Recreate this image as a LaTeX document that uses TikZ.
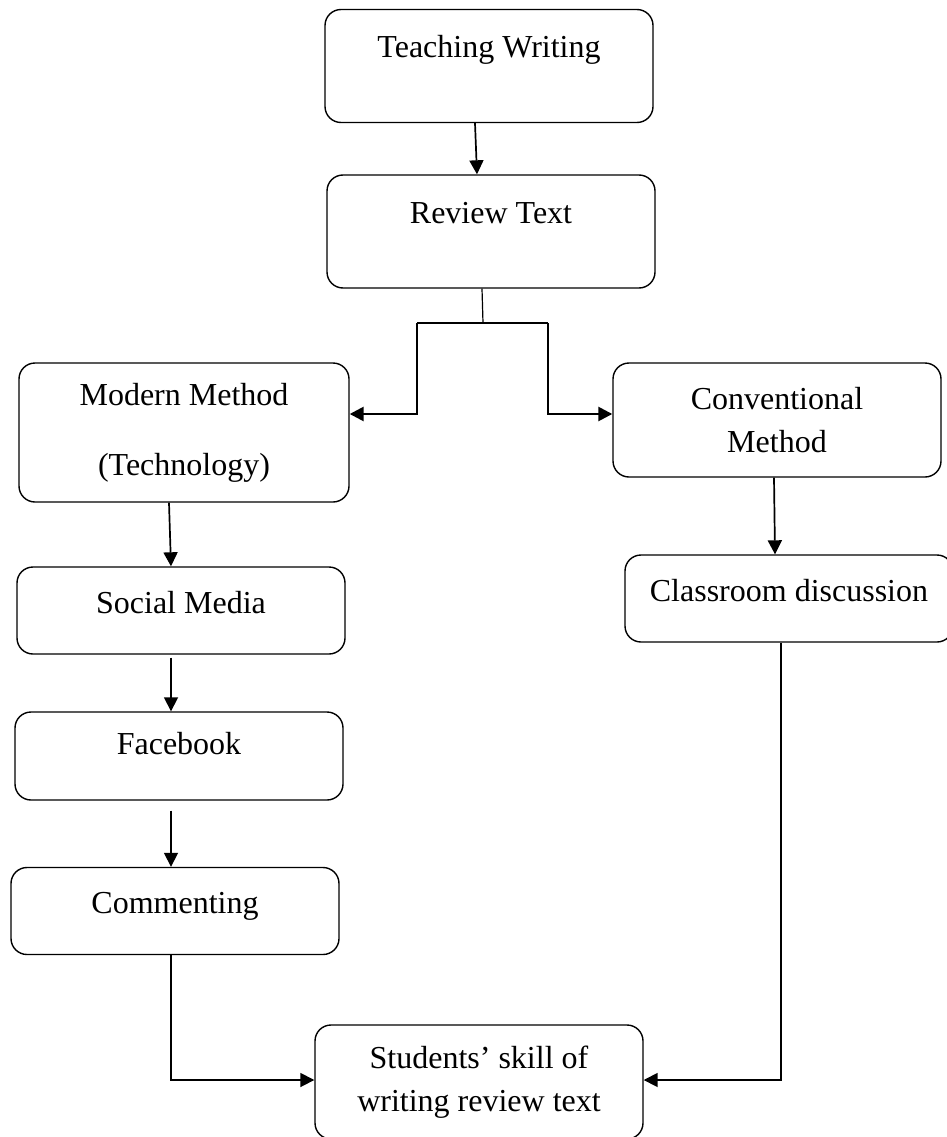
\documentclass[tikz,border=0pt]{standalone}
\usepackage{fontspec}
\setmainfont{Liberation Serif}
\usetikzlibrary{arrows.meta}

\begin{document}
\begin{tikzpicture}[x=1pt,y=-1pt,
  box/.style={draw,rounded corners=16pt,line width=1.4pt,inner sep=0pt,minimum width=328pt,font=\fontsize{32}{43}\selectfont},
  tallbox/.style={box,text height=48pt,text depth=65pt},
  shortbox/.style={box,text height=46pt,text depth=41pt},
  twoline/.style={box,align=center},
  arr/.style={line width=1.7pt,-{Triangle[length=14pt,width=14pt]}},
  fork/.style={line width=2.6pt}]
  \useasboundingbox (0,0) rectangle (947,1137);

  \node (tw) at (489,66) [tallbox]{Teaching Writing};
  \node (rt) at (491,231.5) [tallbox]{Review Text};
  \node (mm) at (184,432.5) [twoline,minimum width=330pt,minimum height=139pt]{Modern Method\\[27pt](Technology)};
  \node (cv) at (777,420) [twoline,minimum height=114pt]{Conventional\\Method};
  \node (sm) at (181,610.5) [shortbox]{Social Media};
  \node (cd) at (789,598.5) [shortbox]{Classroom discussion};
  \node (fb) at (179,756) [shortbox,text height=42pt,text depth=46pt]{Facebook};
  \node (ct) at (175,911) [shortbox]{Commenting};
  \node (st) at (479,1082) [twoline,minimum height=114pt]{Students’ skill of\\writing review text};

  \coordinate (split) at (483,323);
  \coordinate (forkl) at (417,323);
  \coordinate (forkr) at (548,323);

  \draw[arr]([xshift=-14pt]tw.south)--([xshift=-14pt]rt.north);
  \draw[line width=1.2pt]([xshift=-9pt]rt.south)--(split);
  \draw[fork](forkl)--(forkr);
  \draw[fork,-{Triangle[length=14pt,width=14pt]}](forkl)|-([yshift=18.5pt]mm.east);
  \draw[fork,-{Triangle[length=14pt,width=14pt]}](forkr)|-([yshift=6pt]cv.west);
  \draw[arr]([xshift=-15pt]mm.south)--([xshift=-10pt]sm.north);
  \draw[arr]([xshift=-10pt,yshift=-3pt]sm.south)--([xshift=-8pt]fb.north);
  \draw[arr]([xshift=-8pt,yshift=-10pt]fb.south)--([xshift=-4pt]ct.north);
  \draw[arr]([xshift=-3pt]cv.south)--([xshift=-14pt]cd.north);
  \draw[arr]([xshift=-4pt]ct.south)|-([yshift=2pt]st.west);
  \draw[arr]([xshift=-8pt]cd.south)|-([yshift=2pt]st.east);
\end{tikzpicture}
\end{document}
